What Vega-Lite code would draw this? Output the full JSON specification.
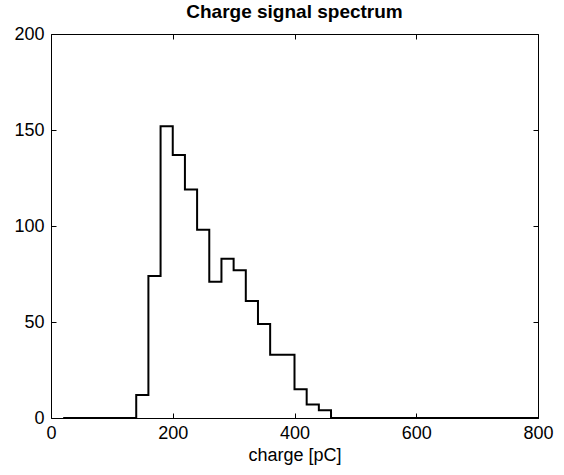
{
  "$schema": "https://vega.github.io/schema/vega-lite/v6.json",
  "width": 487,
  "height": 384,
  "autosize": {"type": "none"},
  "padding": {"left": 51, "top": 34, "right": 26, "bottom": 57},
  "background": "white",
  "title": {"text": "Charge signal spectrum", "font": "Liberation Sans", "fontSize": 19, "fontWeight": "bold", "color": "#000", "offset": 3},
  "config": {
    "view": {"stroke": "#000", "strokeWidth": 1},
    "axis": {"font": "Liberation Sans", "labelFont": "Liberation Sans", "titleFont": "Liberation Sans", "labelFontSize": 18, "titleFontSize": 18, "titleFontWeight": "normal", "labelColor": "#000", "titleColor": "#000", "tickColor": "#000", "domainColor": "#000", "grid": false, "labelFlush": false, "labelOverlap": false}
  },
  "data": {"values": [
    {"charge": 20, "count": 0}, {"charge": 40, "count": 0}, {"charge": 60, "count": 0}, {"charge": 80, "count": 0},
    {"charge": 100, "count": 0}, {"charge": 120, "count": 0}, {"charge": 140, "count": 12}, {"charge": 160, "count": 74},
    {"charge": 180, "count": 152}, {"charge": 200, "count": 137}, {"charge": 220, "count": 119}, {"charge": 240, "count": 98},
    {"charge": 260, "count": 71}, {"charge": 280, "count": 83}, {"charge": 300, "count": 77}, {"charge": 320, "count": 61},
    {"charge": 340, "count": 49}, {"charge": 360, "count": 33}, {"charge": 380, "count": 33}, {"charge": 400, "count": 15},
    {"charge": 420, "count": 7}, {"charge": 440, "count": 4}, {"charge": 460, "count": 0}, {"charge": 480, "count": 0},
    {"charge": 500, "count": 0}, {"charge": 520, "count": 0}, {"charge": 540, "count": 0}, {"charge": 560, "count": 0},
    {"charge": 580, "count": 0}, {"charge": 600, "count": 0}, {"charge": 620, "count": 0}, {"charge": 640, "count": 0},
    {"charge": 660, "count": 0}, {"charge": 680, "count": 0}, {"charge": 700, "count": 0}, {"charge": 720, "count": 0},
    {"charge": 740, "count": 0}, {"charge": 760, "count": 0}, {"charge": 780, "count": 0}, {"charge": 800, "count": 0}
  ]},
  "resolve": {"axis": {"x": "independent", "y": "independent"}},
  "layer": [
    {
      "mark": {"type": "line", "interpolate": "step-after", "color": "#000", "strokeWidth": 2},
      "encoding": {
        "x": {"field": "charge", "type": "quantitative", "scale": {"domain": [0, 800], "nice": false},
              "axis": {"orient": "bottom", "values": [0, 200, 400, 600, 800], "tickSize": -5, "labelPadding": 11, "title": "charge [pC]", "titlePadding": 4, "domain": false}},
        "y": {"field": "count", "type": "quantitative", "scale": {"domain": [0, 200], "nice": false},
              "axis": {"orient": "left", "values": [0, 50, 100, 150, 200], "tickSize": -5, "labelPadding": 12, "title": null, "domain": false}}
      }
    },
    {
      "mark": {"type": "line", "opacity": 0},
      "encoding": {
        "x": {"field": "charge", "type": "quantitative",
              "axis": {"orient": "top", "values": [0, 200, 400, 600, 800], "tickSize": -5, "labels": false, "title": null, "domain": false}},
        "y": {"field": "count", "type": "quantitative",
              "axis": {"orient": "right", "values": [0, 50, 100, 150, 200], "tickSize": -5, "labels": false, "title": null, "domain": false}}
      }
    }
  ]
}
